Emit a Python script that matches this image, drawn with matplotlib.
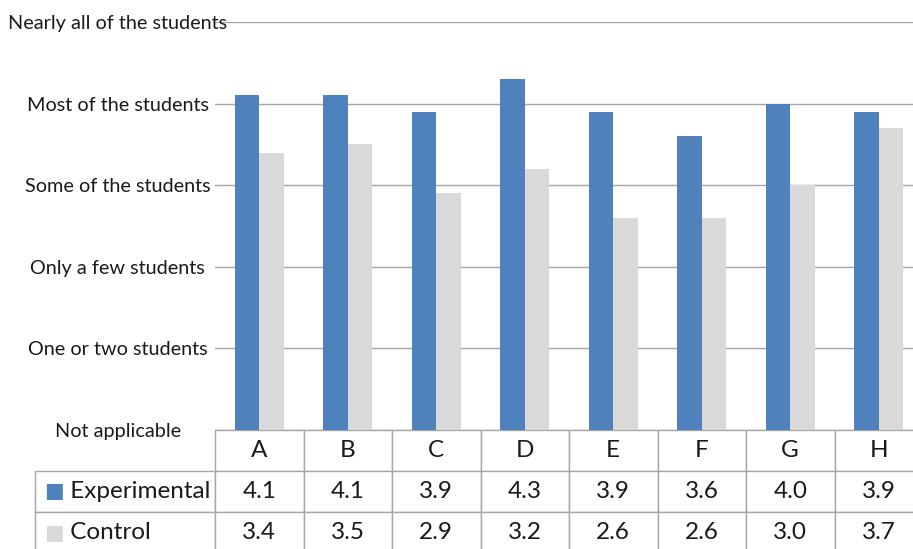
import matplotlib.pyplot as plt
import numpy as np

plt.rcParams['font.family'] = ['Lato', 'DejaVu Sans']

# data
categories = ["A", "B", "C", "D", "E", "F", "G", "H"]
experimental = [4.1, 4.1, 3.9, 4.3, 3.9, 3.6, 4.0, 3.9]
control = [3.4, 3.5, 2.9, 3.2, 2.6, 2.6, 3.0, 3.7]
levels = ["Not applicable", "One or two students", "Only a few students",
          "Some of the students", "Most of the students", "Nearly all of the students"]

blue = "#4F81BD"
grey = "#D9D9D9"
line = "#A6A6A6"

W, H = 913, 549
fig = plt.figure(figsize=(W / 100, H / 100), dpi=100)
# axes spans pixels x 215..923, y 22..430
ax = fig.add_axes([215 / W, 1 - 430 / H, 708 / W, 408 / H])

x = np.arange(len(categories))
bw = 0.277
ax.bar(x - bw / 2, experimental, bw, color=blue, zorder=3)
ax.bar(x + bw / 2, control, bw, color=grey, zorder=3)

ax.set_xlim(-0.5, len(categories) - 0.5)
ax.set_ylim(0, 5)
ax.set_yticks(range(len(levels)))
ax.set_yticklabels(levels, fontsize=14.3, color="#1a1a1a", ha="center")
ax.tick_params(axis="y", length=0, pad=70)
ax.set_xticks([])
for s in ax.spines.values():
    s.set_visible(False)
ax.yaxis.grid(True, color=line, linewidth=1, zorder=0)
ax.set_axisbelow(True)

# data table under the axes; bbox covers only the data cells
cell_text = [[f"{v:.1f}" for v in experimental], [f"{v:.1f}" for v in control]]
row_w = 180 / 708
col_w = 1 / len(categories)
tab = ax.table(cellText=cell_text, rowLabels=["     Experimental", "     Control"],
               colLabels=categories, cellLoc="center", rowLoc="left",
               colWidths=[col_w] * len(categories),
               bbox=[0, -123 / 408, 1, 123 / 408])
tab.auto_set_font_size(False)
tab._autoColumns = []  # keep the label column at the fixed width
for (r, c), cell in tab.get_celld().items():
    cell.set_edgecolor(line)
    cell.set_linewidth(1)
    cell.get_text().set_fontsize(17.5)
    cell.get_text().set_color("#1a1a1a")
    cell.PAD = 0.02
    if c == -1:
        cell.set_width(row_w)

# legend squares in the row-label cells
for i, col in enumerate([blue, grey]):
    yc = -(41 * (i + 1) + 20.5) / 408
    ax.text(-row_w + 9 / 708, yc, "\u25A0", color=col, fontsize=15,
            va="center", ha="left", transform=ax.transAxes, family="DejaVu Sans")

fig.savefig("out.png", dpi=100)
